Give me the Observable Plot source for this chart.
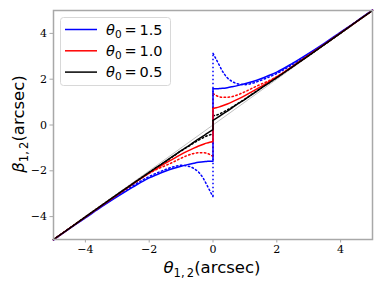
<!DOCTYPE html>
<html>
<head>
<meta charset="utf-8">
<script src="https://cdn.jsdelivr.net/npm/d3@7"></script>
<script src="https://cdn.jsdelivr.net/npm/@observablehq/plot@0.6"></script>
<style>
  html, body { margin: 0; padding: 0; background: #fff; }
  #chart { width: 382px; height: 286px; }
</style>
</head>
<body>
<div id="chart"></div>
<script>
// ---- data ----
const thetaR = [0, 0.1, 0.2, 0.3, 0.45, 0.6, 0.8, 1.0, 1.25, 1.5, 1.75, 2.0, 2.5, 3.0, 3.5, 4.0, 4.5, 5.0];
const thetaL = [-5.0, -4.5, -4.0, -3.5, -3.0, -2.5, -2.0, -1.75, -1.5, -1.25, -1.0, -0.8, -0.6, -0.45, -0.3, -0.2, -0.1, 0];

// theta0 = 1.5 (blue)
const blueSolidR  = [1.58, 1.58, 1.59, 1.60, 1.63, 1.67, 1.73, 1.80, 1.90, 2.02, 2.16, 2.31, 2.70, 3.13, 3.58, 4.06, 4.53, 5.02];
const blueSolidL  = [-5.02, -4.53, -4.06, -3.58, -3.13, -2.70, -2.31, -2.16, -2.02, -1.90, -1.80, -1.73, -1.67, -1.63, -1.60, -1.59, -1.58, -1.58];
const blueDotR    = [3.13, 2.87, 2.60, 2.34, 2.06, 1.90, 1.79, 1.76, 1.83, 1.95, 2.09, 2.25, 2.64, 3.09, 3.55, 4.04, 4.52, 5.01];
const blueDotL    = [-5.01, -4.52, -4.04, -3.55, -3.09, -2.64, -2.25, -2.09, -1.95, -1.83, -1.76, -1.79, -1.90, -2.06, -2.34, -2.60, -2.87, -3.13];
// theta0 = 1.0 (red)
const redSolidR   = [0.72, 0.75, 0.79, 0.84, 0.92, 1.01, 1.14, 1.28, 1.48, 1.68, 1.89, 2.10, 2.56, 3.05, 3.53, 4.02, 4.51, 5.01];
const redSolidL   = [-5.01, -4.51, -4.02, -3.53, -3.05, -2.56, -2.10, -1.89, -1.68, -1.48, -1.28, -1.14, -1.01, -0.92, -0.84, -0.79, -0.75, -0.72];
const redDotR     = [1.38, 1.29, 1.23, 1.21, 1.21, 1.24, 1.33, 1.45, 1.62, 1.78, 1.93, 2.11, 2.56, 3.05, 3.53, 4.02, 4.51, 5.01];
const redDotL     = [-5.01, -4.51, -4.02, -3.53, -3.05, -2.56, -2.11, -1.93, -1.78, -1.62, -1.45, -1.33, -1.24, -1.21, -1.21, -1.23, -1.29, -1.38];
// theta0 = 0.5 (black)
const blackSolidR = [0.20, 0.29, 0.38, 0.48, 0.61, 0.75, 0.94, 1.12, 1.36, 1.60, 1.83, 2.07, 2.55, 3.03, 3.52, 4.01, 4.51, 5.00];
const blackSolidL = [-5.00, -4.51, -4.01, -3.52, -3.03, -2.55, -2.07, -1.83, -1.60, -1.36, -1.12, -0.94, -0.75, -0.61, -0.48, -0.38, -0.29, -0.20];
const blackDotR   = [0.40, 0.43, 0.48, 0.55, 0.66, 0.78, 0.96, 1.13, 1.37, 1.61, 1.84, 2.07, 2.55, 3.03, 3.52, 4.01, 4.51, 5.00];
const blackDotL   = [-5.00, -4.51, -4.01, -3.52, -3.03, -2.55, -2.07, -1.84, -1.61, -1.37, -1.13, -0.96, -0.78, -0.66, -0.55, -0.48, -0.43, -0.40];

const diagTheta = [-5, 5];
const diagBeta  = [-5, 5];

const tickValues = [-4, -2, 0, 2, 4];
const tickLabels = ["\u22124", "\u22122", "0", "2", "4"];
const legendLabels = ["1.5", "1.0", "0.5"];

// ---- styles ----
const series = [
  {key: "blueDot",   L: blueDotL,   R: blueDotR,   color: "#0000ff", dash: "1.5,2.5"},
  {key: "redDot",    L: redDotL,    R: redDotR,    color: "#ff0000", dash: "1.5,2.5"},
  {key: "blackDot",  L: blackDotL,  R: blackDotR,  color: "#000000", dash: "1.5,2.5"},
  {key: "blueSolid", L: blueSolidL, R: blueSolidR, color: "#0000ff", dash: null},
  {key: "redSolid",  L: redSolidL,  R: redSolidR,  color: "#ff0000", dash: null},
  {key: "blackSolid",L: blackSolidL,R: blackSolidR,color: "#000000", dash: null}
];

const lineMarks = [];
for (const s of series) {
  const rows = [];
  thetaL.forEach((t, i) => rows.push({x: t, y: s.L[i], side: "L"}));
  thetaR.forEach((t, i) => rows.push({x: t, y: s.R[i], side: "R"}));
  const opts = {stroke: s.color, strokeWidth: 1.5};
  if (s.dash) opts.strokeDasharray = s.dash;
  lineMarks.push(Plot.line(rows, {x: "x", y: "y", z: "side", curve: "monotone-x", ...opts}));
  lineMarks.push(Plot.ruleX([0], {y1: s.L[s.L.length - 1], y2: s.R[0], ...opts}));
}

const diagRows = diagTheta.map((t, i) => ({x: t, y: diagBeta[i]}));

const chart = Plot.plot({
  width: 382,
  height: 286,
  marginLeft: 53,
  marginRight: 10,
  marginTop: 10,
  marginBottom: 47,
  style: {background: "#fff", fontFamily: "DejaVu Serif", fontSize: "11px", color: "#000"},
  x: {domain: [-5, 5], label: null},
  y: {domain: [-5, 5], label: null},
  marks: [
    Plot.line(diagRows, {x: "x", y: "y", stroke: "#b0b0b0", strokeWidth: 0.8, clip: true}),
    ...lineMarks,
    Plot.frame({stroke: "#a8a8a8", strokeWidth: 1.5}),
    Plot.axisX({ticks: tickValues, tickFormat: (d) => tickLabels[tickValues.indexOf(d)], tickSize: 3.5, tickPadding: 2, stroke: "#a8a8a8", label: null, fontSize: 11, fill: "#000"}),
    Plot.axisY({ticks: tickValues, tickFormat: (d) => tickLabels[tickValues.indexOf(d)], tickSize: 3.5, tickPadding: 3, stroke: "#a8a8a8", label: null, fontSize: 11, fill: "#000"})
  ]
});
document.getElementById("chart").appendChild(chart);

// ---- axis labels & legend (text) ----
const svg = d3.select(chart);
const sans = "DejaVu Sans";

const xl = svg.append("text")
  .attr("x", 212).attr("y", 272.5).attr("text-anchor", "middle")
  .attr("font-family", sans).attr("font-size", 16.5).attr("fill", "#000");
xl.append("tspan").attr("font-style", "italic").text("\u03b8");
xl.append("tspan").attr("font-size", 11.5).attr("dy", 4).text("1,\u20092");
xl.append("tspan").attr("dy", -4).text("(arcsec)");

const yl = svg.append("text")
  .attr("transform", "translate(24,124) rotate(-90)").attr("text-anchor", "middle")
  .attr("font-family", sans).attr("font-size", 16.5).attr("fill", "#000");
yl.append("tspan").attr("font-style", "italic").text("\u03b2");
yl.append("tspan").attr("font-size", 11.5).attr("dy", 4).text("1,\u20092");
yl.append("tspan").attr("dy", -4).text("(arcsec)");

const lg = svg.append("g");
lg.append("rect").attr("x", 60.5).attr("y", 17.5).attr("width", 110).attr("height", 68)
  .attr("rx", 3).attr("fill", "#fff").attr("fill-opacity", 0.85).attr("stroke", "#d8d8d8").attr("stroke-width", 1);
const legendColors = [series[3].color, series[4].color, series[5].color];
legendLabels.forEach((lab, i) => {
  const y = 29.5 + i * 21.3;
  lg.append("line").attr("x1", 65).attr("x2", 97).attr("y1", y).attr("y2", y)
    .attr("stroke", legendColors[i]).attr("stroke-width", 1.5);
  const t = lg.append("text").attr("x", 106).attr("y", y + 5).attr("text-anchor", "start")
    .attr("font-family", sans).attr("font-size", 14.5).attr("fill", "#000");
  t.append("tspan").attr("font-style", "italic").text("\u03b8");
  t.append("tspan").attr("font-size", 10.5).attr("dy", 3).text("0");
  t.append("tspan").attr("dy", -3).text("\u2009=\u2009" + lab);
});
</script>
</body>
</html>
